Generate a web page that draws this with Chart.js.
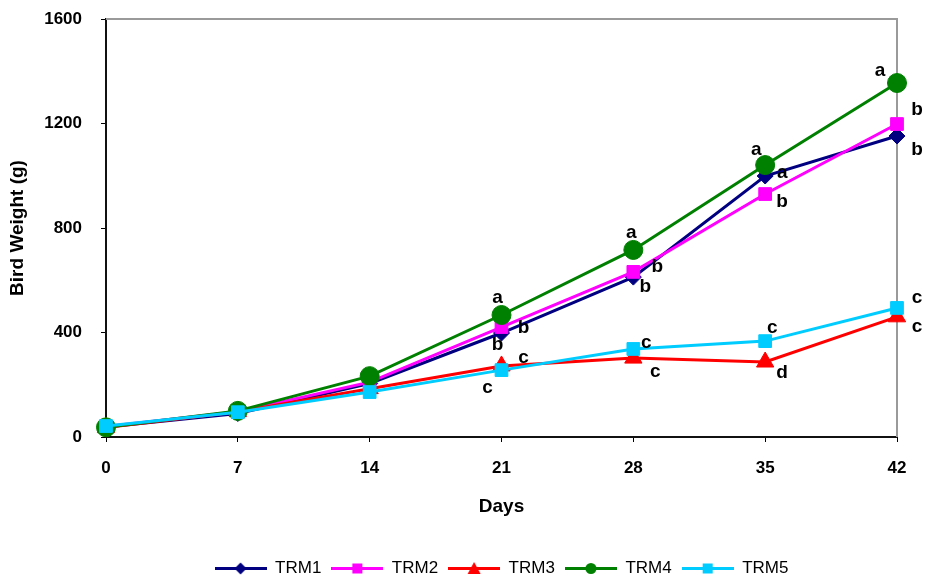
<!DOCTYPE html>
<html>
<head>
<meta charset="utf-8">
<title>Bird Weight</title>
<script src="https://cdn.jsdelivr.net/npm/chart.js@4.4.1/dist/chart.umd.min.js"></script>
<style>
    html, body { margin: 0; padding: 0; background: #fff; }
</style>
</head>
<body>
<canvas id="graficoPeso" width="925" height="580"></canvas>
<script>

// datos
let dias = ['0', '7', '14', '21', '28', '35', '42'];
let trm1 = [38, 90, 205, 398, 612, 999, 1152];
let trm2 = [40, 97, 210, 421, 632, 930, 1198];
let trm3 = [36, 97, 185, 272, 302, 287, 460];
let trm4 = [37, 100, 233, 467, 716, 1041, 1355];
let trm5 = [42, 95, 172, 256, 337, 367, 494];

// letras de significancia
let letras1 = [null, null, null, 'b', 'b', 'a', 'b'];
let letras2 = [null, null, null, 'b', 'b', 'b', 'b'];
let letras3 = [null, null, null, 'c', 'c', 'd', 'c'];
let letras4 = [null, null, null, 'a', 'a', 'a', 'a'];
let letras5 = [null, null, null, 'c', 'c', 'c', 'c'];

let yTicks = [0, 400, 800, 1200, 1600];

const fuente = "'Liberation Sans', Arial, sans-serif";
Chart.defaults.font.family = fuente;
Chart.defaults.color = '#000';

// desplazamiento de cada letra respecto a su punto [dx, dy]
const offsetsLetras = [
    [null, null, null, [-4, 12], [12, 10], [17, -3], [20, 14]],
    [null, null, null, [22, 1], [24, -5], [17, 8], [20, -14]],
    [null, null, null, [22, -8], [22, 14], [17, 11], [20, 10]],
    [null, null, null, [-4, -17], [-2, -17], [-9, -15], [-17, -12]],
    [null, null, null, [-14, 18], [13, -6], [7, -13], [20, -10]]
];

// icono de leyenda: linea con marcador
function iconoLeyenda(color, forma) {
    const c = document.createElement('canvas');
    c.width = 52;
    c.height = 17;
    const g = c.getContext('2d');
    g.strokeStyle = color;
    g.fillStyle = color;
    g.lineWidth = 3;
    g.beginPath();
    g.moveTo(0, 8.5);
    g.lineTo(52, 8.5);
    g.stroke();
    g.beginPath();
    if (forma === 'rectRot') {
        g.moveTo(26, 2.5); g.lineTo(32, 8.5); g.lineTo(26, 14.5); g.lineTo(20, 8.5);
    } else if (forma === 'rect') {
        g.rect(21, 3.5, 10, 10);
    } else if (forma === 'triangle') {
        g.moveTo(26, 2); g.lineTo(32.5, 14); g.lineTo(19.5, 14);
    } else {
        g.arc(26, 8.5, 5.5, 0, Math.PI * 2);
    }
    g.closePath();
    g.fill();
    return c;
}

function serie(nombre, datos, color, forma, radio, orden) {
    return {
        label: nombre,
        data: datos,
        borderColor: color,
        backgroundColor: color,
        borderWidth: 3,
        pointStyle: forma,
        pointRadius: radio,
        pointHoverRadius: radio,
        pointBackgroundColor: color,
        pointBorderColor: color,
        pointBorderWidth: 1,
        tension: 0,
        order: orden,
        icono: iconoLeyenda(color, forma)
    };
}

let letrasSeries = [letras1, letras2, letras3, letras4, letras5];

const pluginLetras = {
    id: 'letras',
    afterDatasetsDraw(chart) {
        const ctx = chart.ctx;
        ctx.save();
        ctx.font = 'bold 19px ' + fuente;
        ctx.fillStyle = '#000';
        ctx.textAlign = 'center';
        ctx.textBaseline = 'middle';
        letrasSeries.forEach((letras, d) => {
            const meta = chart.getDatasetMeta(d);
            letras.forEach((l, i) => {
                if (!l) return;
                const p = meta.data[i];
                const off = offsetsLetras[d][i];
                ctx.fillText(l, p.x + off[0], p.y + off[1]);
            });
        });
        ctx.restore();
    }
};

// borde gris arriba y a la derecha del area
const pluginBorde = {
    id: 'borde',
    beforeDatasetsDraw(chart) {
        const a = chart.chartArea;
        const ctx = chart.ctx;
        ctx.save();
        ctx.strokeStyle = '#9a9a9a';
        ctx.lineWidth = 2;
        ctx.beginPath();
        ctx.moveTo(a.left, a.top);
        ctx.lineTo(a.right, a.top);
        ctx.lineTo(a.right, a.bottom);
        ctx.stroke();
        ctx.restore();
    }
};

const ctx = document.getElementById('graficoPeso').getContext('2d');

let grafico = new Chart(ctx, {
    type: 'line',
    plugins: [pluginBorde, pluginLetras],
    data: {
        labels: dias,
        datasets: [
            serie('TRM1', trm1, '#000080', 'rectRot', 8, 5),
            serie('TRM2', trm2, '#ff00ff', 'rect', 9, 4),
            serie('TRM3', trm3, '#ff0000', 'triangle', 10, 3),
            serie('TRM4', trm4, '#008000', 'circle', 9.5, 2),
            serie('TRM5', trm5, '#00ccff', 'rect', 9, 1)
        ]
    },
    options: {
        responsive: false,
        animation: false,
        layout: { padding: { left: 0, right: 28, top: 19, bottom: 0 } },
        scales: {
            x: {
                type: 'category',
                offset: false,
                grid: { drawOnChartArea: false, color: '#000', tickLength: 5 },
                border: { color: '#111', width: 2 },
                ticks: { padding: 16, font: { size: 17, weight: 'bold' }, maxRotation: 0 },
                title: { display: true, text: 'Days', font: { size: 19, weight: 'bold' }, padding: { top: 0, bottom: 31.5 } },
                afterFit: function (s) { s.height = 113; }
            },
            y: {
                min: 0,
                max: 1600,
                afterBuildTicks: function (s) { s.ticks = yTicks.map(v => ({ value: v })); },
                grid: { drawOnChartArea: false, color: '#000', tickLength: 5 },
                border: { color: '#111', width: 2 },
                ticks: {
                    padding: 19,
                    font: { size: 17, weight: 'bold' },
                    callback: function (v) { return String(v); }
                },
                title: { display: true, text: 'Bird Weight (g)', font: { size: 19, weight: 'bold' }, padding: { top: 6.5, bottom: 0 } },
                afterFit: function (s) {
                    s.width = 106;
                    // sin relleno extra arriba por el padding de las etiquetas
                    s.paddingTop = 0;
                    s.paddingBottom = 0;
                }
            }
        },
        plugins: {
            tooltip: { enabled: false },
            legend: {
                position: 'bottom',
                fullSize: false,
                maxHeight: 30,
                labels: {
                    usePointStyle: true,
                    pointStyleWidth: 52,
                    boxHeight: 17,
                    padding: 10,
                    color: '#000',
                    font: { size: 17 },
                    sort: (a, b) => a.datasetIndex - b.datasetIndex,
                    generateLabels: function (chart) {
                        let items = Chart.defaults.plugins.legend.labels.generateLabels(chart);
                        items.forEach(it => { it.pointStyle = chart.data.datasets[it.datasetIndex].icono; });
                        return items;
                    }
                }
            }
        }
    }
});

</script>
</body>
</html>
